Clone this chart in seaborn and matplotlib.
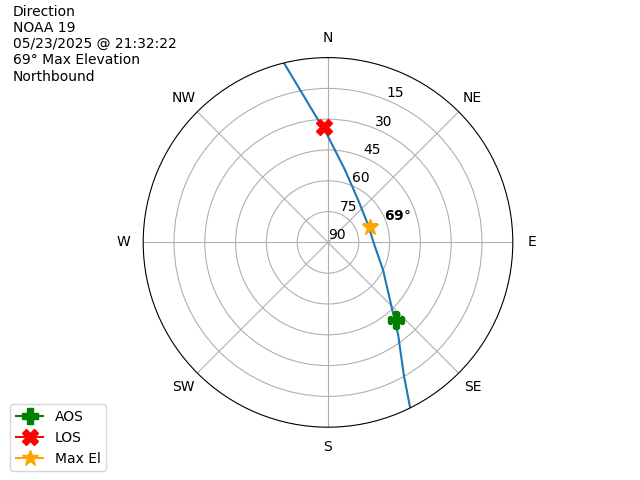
import numpy as np
import matplotlib
matplotlib.use("Agg")
import matplotlib.pyplot as plt
import seaborn as sns

# pass track (azimuth deg, elevation deg)
track_az = [153.6, 150.3, 142.9, 135.4, 116.6, 91.0, 68.0, 35.2, 13.0, 359.5, 355.3, 346.2]
track_el = [0.0, 15.4, 33.3, 45.9, 60.0, 67.7, 68.7, 64.6, 53.6, 37.5, 30.0, 0.0]

aos_az, aos_el = 139.0, 39.8
los_az, los_el = 358.0, 33.9
max_az, max_el = 69.2, 68.2

satellite = "NOAA 19"
pass_time = "05/23/2025 @ 21:32:22"
max_elevation = 69
direction = "Northbound"

compass_labels = ["N", "NE", "E", "SE", "S", "SW", "W", "NW"]
el_ticks = [90, 75, 60, 45, 30, 15]


def to_r(el):
    return 90 - np.asarray(el, dtype=float)


fig = plt.figure(figsize=(6.4, 4.8), dpi=100)
ax = fig.add_subplot(111, projection="polar")
ax.set_theta_zero_location("N")
ax.set_theta_direction(-1)

# satellite ground track
sns.lineplot(x=np.deg2rad(track_az), y=to_r(track_el), sort=False,
             color="tab:blue", linewidth=1.5, ax=ax)

ax.plot(np.deg2rad(aos_az), to_r(aos_el), marker="P", markersize=12,
        color="green", label="AOS")
ax.plot(np.deg2rad(los_az), to_r(los_el), marker="X", markersize=12,
        color="red", label="LOS")
ax.plot(np.deg2rad(max_az), to_r(max_el), marker="*", markersize=12,
        color="orange", label="Max El")

ax.annotate(r"$\mathbf{%d}$°" % max_elevation,
            xy=(np.deg2rad(max_az), to_r(max_el)),
            xytext=(10, 2.5), textcoords="offset points",
            ha="left", va="bottom", fontsize=10)

ax.set_ylim(0, 90)
ax.set_yticks(to_r(el_ticks))
ax.set_yticklabels([str(e) for e in el_ticks])
ax.set_xticks(np.deg2rad(np.arange(0, 360, 45)))
ax.set_xticklabels(compass_labels)
ax.set_xlabel("")
ax.set_ylabel("")

fig.text(0.02, 0.99,
         f"Direction\n{satellite}\n{pass_time}\n{max_elevation}° Max Elevation\n{direction}",
         ha="left", va="top", fontsize=10)

fig.legend(loc="lower left", bbox_to_anchor=(0.005, 0.004))

plt.savefig("out.png", dpi=100)
